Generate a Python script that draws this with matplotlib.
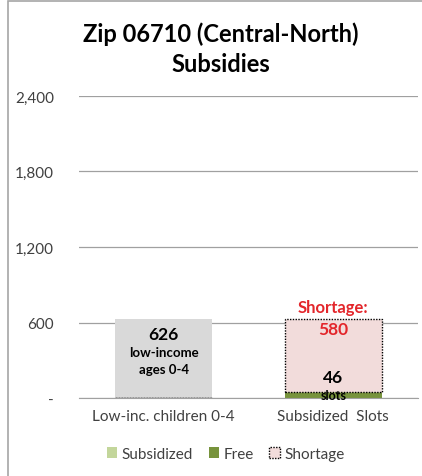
import matplotlib.pyplot as plt
from matplotlib.patches import Rectangle, Patch

# chart data
categories = ['Low-inc. children 0-4', 'Subsidized  Slots']
children = [626, 0]
subsidized = [0, 0]
free = [0, 46]
shortage = [0, 580]
yticks = [0, 600, 1200, 1800, 2400]
ytick_labels = ['-', '600', '1,200', '1,800', '2,400']

plt.rcParams['font.family'] = ['Lato', 'DejaVu Sans']

fig = plt.figure(figsize=(4.22, 4.77), dpi=100)
# outer chart frame (cropped at right/bottom)
fig.patches.append(Rectangle((8/422, -0.1), 1.2, 1 - 2/477 + 0.1, transform=fig.transFigure,
                             fill=False, edgecolor='#a6a6a6', lw=1.2))

ax = fig.add_axes([79/422, 1 - 399/477, 339/422, (399 - 97)/477])
x = list(range(len(categories)))
w = 0.57

ax.bar(x, children, width=w, color='#d9d9d9', zorder=2)
ax.bar(x, subsidized, width=w, color='#c3d69b', zorder=2)
ax.bar(x, free, width=w, bottom=subsidized, color='#77933c', zorder=2)
base = [s + f for s, f in zip(subsidized, free)]
ax.bar(x, shortage, width=w, bottom=base, color='#f2dcdb', edgecolor='black',
       linestyle=(0, (1, 1)), lw=1.0, zorder=2)

ax.set_xlim(-0.5, 1.5)
ax.set_ylim(0, 2400)
ax.set_yticks(yticks)
ax.set_yticklabels(ytick_labels, fontsize=11, color='#404040')
ax.set_xticks(x)
ax.set_xticklabels(categories, fontsize=11, color='#404040')
ax.tick_params(length=0, pad=18)
ax.tick_params(axis='x', pad=8)
ax.grid(axis='y', color='#a0a0a0', lw=0.9, zorder=0)
for s in ['top', 'right', 'left']:
    ax.spines[s].set_visible(False)
ax.spines['bottom'].set_color('#a0a0a0')

# annotations
ax.text(0, children[0] - 115, str(children[0]), ha='center', va='center',
        fontsize=12.5, fontweight='bold')
ax.text(0, children[0] - 325, 'low-income\nages 0-4', ha='center', va='center',
        fontsize=9.5, fontweight='bold', linespacing=1.5)
ax.text(1, base[1] + shortage[1] + 100, 'Shortage:', ha='center', va='center',
        fontsize=12, fontweight='bold', color='#e3262b')
ax.text(1, base[1] + shortage[1] - 80, str(shortage[1]), ha='center', va='center',
        fontsize=12.5, fontweight='bold', color='#e3262b')
ax.text(1, free[1] + 120, str(free[1]), ha='center', va='center',
        fontsize=12.5, fontweight='bold')
ax.text(1, 25, 'slots', ha='center', va='center', fontsize=9, fontweight='bold')

fig.suptitle('Zip 06710 (Central-North)\nSubsidies', x=0.523, y=0.952, fontsize=17,
             fontweight='bold', linespacing=1.35)

handles = [Patch(facecolor='#c3d69b', label='Subsidized'),
           Patch(facecolor='#77933c', label='Free'),
           Patch(facecolor='#f2dcdb', edgecolor='black', linestyle=(0, (1, 1)), label='Shortage')]
fig.legend(handles=handles, loc='center', bbox_to_anchor=(0.535, 1 - 455/477), ncol=3,
           frameon=False, fontsize=11, handlelength=0.7, handleheight=0.7,
           handletextpad=0.3, columnspacing=1.0, labelcolor='#404040')

fig.savefig('out.png', dpi=100)
